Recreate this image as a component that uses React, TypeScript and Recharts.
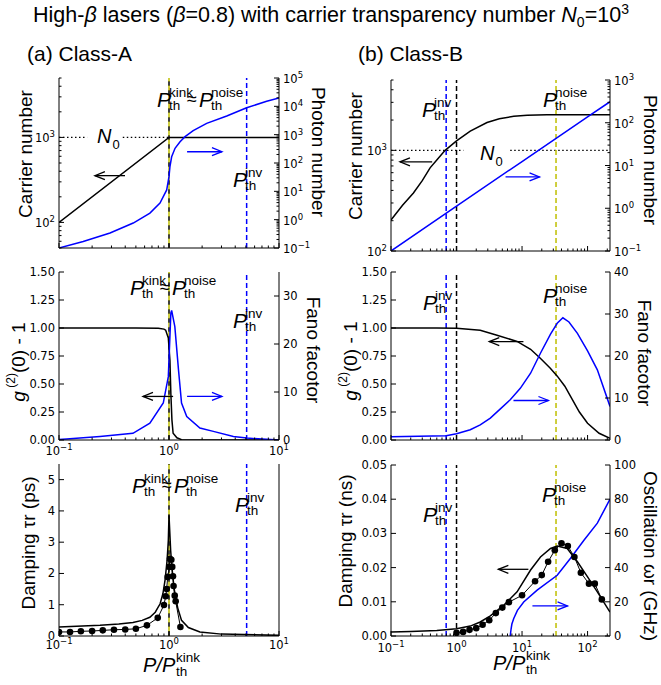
import React from "react";
import { LineChart, Line, XAxis, YAxis, ReferenceLine } from "recharts";

const FONT = "'Liberation Sans', Arial, sans-serif";
const TICK_FONT = "'DejaVu Sans', sans-serif";
const BLUE = "#0000ff";
const YELLOW = "#bfbf00";

// ---- axes ----
const xMajorA = [0.1, 1, 10];
const xMajorB = [0.1, 1, 10, 100];
const xDomainA: [number, number] = [0.1, 10];
const xDomainB: [number, number] = [0.1, 220];
const carrierMajorA = [100, 1000];
const carrierDomainA: [number, number] = [50, 5000];
const carrierMajorB = [100, 1000];
const carrierDomainB: [number, number] = [100, 5000];
const photonMajorA = [0.1, 1, 10, 100, 1000, 10000, 100000];
const photonMajorB = [0.1, 1, 10, 100, 1000];
const g2Ticks = [0, 0.25, 0.5, 0.75, 1, 1.25, 1.5];
const fanoTicksA = [0, 10, 20, 30];
const fanoTicksB = [0, 10, 20, 30, 40];
const tauTicksA = [0, 1, 2, 3, 4, 5];
const tauTicksB = [0, 0.01, 0.02, 0.03, 0.04, 0.05];
const oscTicks = [0, 20, 40, 60, 80, 100];

// ---- (a) Class-A data ----
const carrierA = [
  { x: 0.1, y: 100 }, { x: 1, y: 1000 }, { x: 10, y: 1000 },
];
const photonA = [
  { x: 0.1, y: 0.1 }, { x: 0.166, y: 0.17 }, { x: 0.291, y: 0.337 }, { x: 0.473, y: 0.76 },
  { x: 0.671, y: 1.7 }, { x: 0.828, y: 3.83 }, { x: 0.953, y: 11.2 }, { x: 1.0, y: 33 },
  { x: 1.02, y: 74 }, { x: 1.057, y: 166 }, { x: 1.135, y: 331 }, { x: 1.26, y: 562 },
  { x: 1.4, y: 851 }, { x: 1.66, y: 1380 }, { x: 2.2, y: 2510 }, { x: 3.35, y: 4570 },
  { x: 5.08, y: 8910 }, { x: 7.73, y: 15100 }, { x: 10, y: 19900 },
];
const g2A = [
  { x: 0.1, y: 1.0 }, { x: 0.5, y: 1.0 }, { x: 0.8, y: 0.998 }, { x: 0.9, y: 0.99 },
  { x: 0.933, y: 0.98 }, { x: 0.986, y: 0.91 }, { x: 1.02, y: 0.71 }, { x: 1.04, y: 0.41 },
  { x: 1.063, y: 0.18 }, { x: 1.09, y: 0.06 }, { x: 1.18, y: 0.02 }, { x: 1.3, y: 0.003 },
  { x: 2, y: 0 }, { x: 10, y: 0 },
];
const fanoA = [
  { x: 0.1, y: 0.1 }, { x: 0.117, y: 0.2 }, { x: 0.236, y: 0.75 }, { x: 0.47, y: 1.4 },
  { x: 0.67, y: 3.5 }, { x: 0.887, y: 7.7 }, { x: 0.986, y: 13.2 }, { x: 1.04, y: 26.5 },
  { x: 1.057, y: 27 }, { x: 1.13, y: 23.6 }, { x: 1.22, y: 14.6 }, { x: 1.3, y: 7.7 },
  { x: 1.45, y: 4.9 }, { x: 1.91, y: 2.5 }, { x: 2.53, y: 1.8 }, { x: 3.85, y: 0.75 },
  { x: 5.08, y: 0.4 }, { x: 10, y: 0 },
];
const tauTheoryA = [
  { x: 0.1, y: 0.29 }, { x: 0.236, y: 0.34 }, { x: 0.35, y: 0.38 }, { x: 0.47, y: 0.43 },
  { x: 0.57, y: 0.5 }, { x: 0.67, y: 0.6 }, { x: 0.75, y: 0.76 }, { x: 0.83, y: 1.03 },
  { x: 0.88, y: 1.35 }, { x: 0.92, y: 1.78 }, { x: 0.96, y: 2.4 }, { x: 0.986, y: 3.06 },
  { x: 1.0, y: 3.86 }, { x: 1.035, y: 2.74 }, { x: 1.07, y: 2.05 }, { x: 1.12, y: 1.46 },
  { x: 1.2, y: 0.9 }, { x: 1.3, y: 0.5 }, { x: 1.5, y: 0.27 }, { x: 1.91, y: 0.13 },
  { x: 3, y: 0.06 }, { x: 10, y: 0.02 },
];
const tauSimA = [
  { x: 0.1, y: 0.13 }, { x: 0.126, y: 0.13 }, { x: 0.158, y: 0.15 }, { x: 0.2, y: 0.16 },
  { x: 0.25, y: 0.18 }, { x: 0.316, y: 0.2 }, { x: 0.4, y: 0.21 }, { x: 0.5, y: 0.23 },
  { x: 0.63, y: 0.34 }, { x: 0.79, y: 0.58 }, { x: 0.9, y: 0.99 }, { x: 0.933, y: 1.27 },
  { x: 0.953, y: 1.5 }, { x: 0.973, y: 1.89 }, { x: 1.007, y: 2.21 }, { x: 1.02, y: 2.47 },
  { x: 1.05, y: 2.44 }, { x: 1.07, y: 2.21 }, { x: 1.087, y: 1.91 }, { x: 1.1, y: 1.6 },
  { x: 1.127, y: 1.29 }, { x: 1.15, y: 1.11 }, { x: 1.27, y: 0.29 },
];

// ---- (b) Class-B data ----
const carrierB = [
  { x: 0.1, y: 203 }, { x: 0.15, y: 285 }, { x: 0.22, y: 377 }, { x: 0.3, y: 500 },
  { x: 0.395, y: 670 }, { x: 0.5, y: 800 }, { x: 0.67, y: 1000 }, { x: 1.0, y: 1240 },
  { x: 1.62, y: 1550 }, { x: 2.92, y: 1890 }, { x: 4.5, y: 2060 }, { x: 7.47, y: 2180 },
  { x: 12, y: 2235 }, { x: 24, y: 2260 }, { x: 220, y: 2260 },
];
const photonB = [
  { x: 0.1, y: 0.1 }, { x: 1, y: 1.12 }, { x: 10, y: 12.4 }, { x: 100, y: 137 }, { x: 220, y: 310 },
];
const g2B = [
  { x: 0.1, y: 1.0 }, { x: 0.5, y: 1.0 }, { x: 1, y: 0.997 }, { x: 2.3, y: 0.98 },
  { x: 4.15, y: 0.935 }, { x: 8.4, y: 0.88 }, { x: 13.5, y: 0.81 }, { x: 19, y: 0.73 },
  { x: 27, y: 0.64 }, { x: 34.5, y: 0.57 }, { x: 45, y: 0.48 }, { x: 55, y: 0.39 },
  { x: 75, y: 0.25 }, { x: 100, y: 0.15 }, { x: 150, y: 0.06 }, { x: 220, y: 0.015 },
];
const fanoB = [
  { x: 0.1, y: 0.8 }, { x: 0.695, y: 1.0 }, { x: 1, y: 1.5 }, { x: 1.62, y: 2.45 },
  { x: 2.3, y: 3.6 }, { x: 3.28, y: 5.2 }, { x: 4.67, y: 7.4 }, { x: 6.6, y: 9.6 },
  { x: 9.4, y: 12.3 }, { x: 13.5, y: 15.9 }, { x: 19, y: 20.6 }, { x: 27.2, y: 25.2 },
  { x: 34.4, y: 27.8 }, { x: 42, y: 29.1 }, { x: 52, y: 28.1 }, { x: 70, y: 25.4 },
  { x: 100, y: 21.2 }, { x: 141, y: 16.7 }, { x: 220, y: 8 },
];
const tauTheoryB = [
  { x: 0.1, y: 0.0012 }, { x: 0.2, y: 0.0013 }, { x: 0.5, y: 0.0016 }, { x: 1, y: 0.0021 },
  { x: 1.62, y: 0.0029 }, { x: 2.3, y: 0.0041 }, { x: 3.28, y: 0.0059 }, { x: 4.15, y: 0.0074 },
  { x: 5.25, y: 0.009 }, { x: 8.4, y: 0.0129 }, { x: 13.5, y: 0.0193 }, { x: 19.1, y: 0.0231 },
  { x: 27.2, y: 0.0256 }, { x: 34.4, y: 0.0263 }, { x: 49, y: 0.0256 }, { x: 70, y: 0.0217 },
  { x: 100, y: 0.0173 }, { x: 141, y: 0.0129 }, { x: 220, y: 0.007 },
];
const tauSimB = [
  { x: 1.0, y: 0.0009 }, { x: 1.26, y: 0.0012 }, { x: 1.58, y: 0.0018 }, { x: 2.0, y: 0.0023 },
  { x: 2.5, y: 0.0033 }, { x: 3.16, y: 0.0046 }, { x: 3.98, y: 0.0067 }, { x: 5.0, y: 0.0083 },
  { x: 6.3, y: 0.0099 }, { x: 10, y: 0.0119 }, { x: 15.8, y: 0.016 }, { x: 20, y: 0.0178 },
  { x: 25, y: 0.0217 }, { x: 31.6, y: 0.0251 }, { x: 40, y: 0.0271 }, { x: 50, y: 0.0263 },
  { x: 63, y: 0.0231 }, { x: 79, y: 0.0185 }, { x: 105, y: 0.0153 }, { x: 129, y: 0.0153 },
  { x: 165, y: 0.0107 },
];
const oscB = [
  { x: 6.6, y: 0 }, { x: 6.8, y: 4 }, { x: 7.0, y: 7 }, { x: 7.47, y: 10.2 }, { x: 8.5, y: 15 },
  { x: 10.6, y: 19.9 }, { x: 17, y: 26.8 }, { x: 34.4, y: 35.5 }, { x: 55, y: 45.5 },
  { x: 88, y: 56 }, { x: 141, y: 66 }, { x: 220, y: 80 },
];

// thresholds (P/P_kink)
const pInvA = 5.08;
const pInvB = 0.695;
const pNoiseB = 33;

// ---- helpers ----
const withMinors = (majors: number[], hi: number) => {
  const out: number[] = [];
  majors.forEach((m) => {
    out.push(m);
    for (let k = 2; k <= 9; k++) if (m * k <= hi * 1.0001) out.push(m * k);
  });
  return out;
};
const isMajor = (v: number, majors: number[]) => majors.some((m) => Math.abs(m - v) / m < 1e-6);
const expText = (v: number) => String(Math.round(Math.log10(v))).replace("-", "\u2212");

type AxisSpec = {
  log?: boolean;
  domain: [number, number];
  ticks: number[];
  majors?: number[];
  fmt?: (v: number) => string;
  noLabels?: boolean;
};

function XTick(p: any) {
  const { x, y, payload, majors, labels, dy } = p;
  const v = payload.value;
  const major = isMajor(v, majors);
  return (
    <g>
      <line x1={x} x2={x} y1={y} y2={y - (major ? 5 : 2.5)} stroke="#000" strokeWidth={1} />
      {labels && major && (
        <text x={x} y={y + dy} textAnchor="middle" fontFamily={TICK_FONT} fontSize={11.5} fill="#000">
          10<tspan dy={-5} fontSize={8.5}>{expText(v)}</tspan>
        </text>
      )}
    </g>
  );
}

function YTick(p: any) {
  const { x, y, payload, spec, side } = p;
  const s: AxisSpec = spec;
  const v = payload.value;
  const major = s.log ? isMajor(v, s.majors || []) : true;
  const dir = side === "l" ? 1 : -1;
  const len = major ? 5 : 2.5;
  const tx = side === "l" ? x - 4 : x + 4;
  const anchor = side === "l" ? "end" : "start";
  let label: React.ReactNode = null;
  if (!s.noLabels && major) {
    label = s.log ? (
      <text x={tx} y={y + 5} textAnchor={anchor} fontFamily={TICK_FONT} fontSize={11.5} fill="#000">
        10<tspan dy={-5} fontSize={8.5}>{expText(v)}</tspan>
      </text>
    ) : (
      <text x={tx} y={y + 4} textAnchor={anchor} fontFamily={TICK_FONT} fontSize={11.5} fill="#000">
        {s.fmt ? s.fmt(v) : String(v)}
      </text>
    );
  }
  return (
    <g>
      <line x1={x} x2={x + dir * len} y1={y} y2={y} stroke="#000" strokeWidth={1} />
      {label}
    </g>
  );
}

const arrow = (color: string) => (p: any) => {
  const { x1, y1, x2, y2 } = p;
  const d = Math.sign(x2 - x1);
  return (
    <g stroke={color} strokeWidth={1.3} fill="none">
      <line x1={x1} y1={y1} x2={x2} y2={y2} />
      <polyline points={`${x2 - d * 10},${y2 - 4} ${x2},${y2} ${x2 - d * 10},${y2 + 4}`} />
    </g>
  );
};

const dashed = (color: string, offset = 0, dash = "5 3") => (p: any) => (
  <line x1={p.x1} y1={p.y1} x2={p.x2} y2={p.y2} stroke={color} strokeWidth={1.5}
    strokeDasharray={dash} strokeDashoffset={offset} />
);

type PanelProps = {
  left: number; top: number; width: number; height: number;
  plotTop: number; plotBottom: number; yLeftW: number; yRightW: number;
  xDomain: [number, number]; xTicks: number[]; xMajors: number[];
  xLabels: boolean; xLabelDy: number;
  l: AxisSpec; r: AxisSpec;
  children?: React.ReactNode;
};

function Panel(pp: PanelProps) {
  const { left, top, width, height, plotTop, plotBottom, yLeftW, yRightW, xDomain, xTicks, xMajors, xLabels, xLabelDy, l, r } = pp;
  return (
    <div style={{ position: "absolute", left, top }}>
      <LineChart width={width} height={height} margin={{ top: plotTop - top, right: 0, bottom: 0, left: 0 }}>
        <XAxis dataKey="x" type="number" scale="log" domain={xDomain} allowDataOverflow ticks={xTicks}
          interval={0} tickSize={0} tickMargin={0} height={top + height - plotBottom}
          axisLine={{ stroke: "#000", strokeWidth: 1 }} tickLine={false}
          tick={(p: any) => <XTick {...p} majors={xMajors} labels={xLabels} dy={xLabelDy} />} />
        <XAxis xAxisId="t" orientation="top" type="number" scale="log" domain={xDomain} allowDataOverflow
          height={0} tick={false} tickLine={false} axisLine={{ stroke: "#000", strokeWidth: 1 }} />
        <YAxis yAxisId="l" orientation="left" width={yLeftW} type="number" scale={l.log ? "log" : "linear"}
          domain={l.domain} allowDataOverflow ticks={l.ticks} interval={0} tickSize={0} tickMargin={0}
          axisLine={{ stroke: "#000", strokeWidth: 1 }} tickLine={false}
          tick={(p: any) => <YTick {...p} spec={l} side="l" />} />
        <YAxis yAxisId="r" orientation="right" width={yRightW} type="number" scale={r.log ? "log" : "linear"}
          domain={r.domain} allowDataOverflow ticks={r.ticks} interval={0} tickSize={0} tickMargin={0}
          axisLine={{ stroke: "#000", strokeWidth: 1 }} tickLine={false}
          tick={(p: any) => <YTick {...p} spec={r} side="r" />} />
        {pp.children}
      </LineChart>
    </div>
  );
}

const lineProps = { type: "linear" as const, dataKey: "y", dot: false, strokeWidth: 1.5, isAnimationActive: false };

// ---- overlay text helpers ----
function PTh({ x, y, sup }: { x: number; y: number; sup: string }) {
  return (
    <g fontFamily={FONT} fill="#000">
      <text x={x} y={y} fontSize={21} fontStyle="italic">P</text>
      <text x={x + 12} y={y + 3} fontSize={13.5}>th</text>
      <text x={x + 12} y={y - 10} fontSize={13.5}>{sup}</text>
    </g>
  );
}
function KinkNoise({ x, y }: { x: number; y: number }) {
  return (
    <g>
      <PTh x={x} y={y} sup="kink" />
      <text x={x + 30} y={y - 2} fontSize={18} fontFamily={FONT}>≈</text>
      <PTh x={x + 42} y={y} sup="noise" />
    </g>
  );
}
function N0({ x, y }: { x: number; y: number }) {
  return (
    <text x={x} y={y} fontFamily={FONT} fontSize={20}>
      <tspan fontStyle="italic">N</tspan>
      <tspan dx={1} dy={6} fontSize={13}>0</tspan>
    </text>
  );
}
function VTitle({ x, y, rot, children }: { x: number; y: number; rot: number; children: React.ReactNode }) {
  return (
    <text transform={`translate(${x},${y}) rotate(${rot})`} textAnchor="middle" dominantBaseline="central"
      fontFamily={FONT} fontSize={19} fill="#000">
      {children}
    </text>
  );
}
function XTitle({ x, y }: { x: number; y: number }) {
  return (
    <g fontFamily={FONT} fill="#000">
      <text x={x} y={y} fontSize={20} fontStyle="italic">P/P</text>
      <text x={x + 33} y={y + 4} fontSize={13.5}>th</text>
      <text x={x + 33} y={y - 10} fontSize={13.5}>kink</text>
    </g>
  );
}
const G2Title = () => (
  <>
    <tspan fontStyle="italic">g</tspan>
    <tspan dy={-7} fontSize={12}> (2)</tspan>
    <tspan dy={7}>(0) - 1</tspan>
  </>
);

// ---- axis specs ----
const xTicksA = withMinors([0.1, 1], 10).concat([10]);
const xTicksB = withMinors([0.1, 1, 10, 100], 220);
const carrierSpecA: AxisSpec = { log: true, domain: carrierDomainA, ticks: [50, 60, 70, 80, 90].concat(withMinors([100, 1000], 5000)), majors: carrierMajorA };
const photonSpecA: AxisSpec = { log: true, domain: [0.1, 100000], ticks: withMinors(photonMajorA, 100000), majors: photonMajorA };
const carrierSpecB: AxisSpec = { log: true, domain: carrierDomainB, ticks: withMinors(carrierMajorB, 5000), majors: carrierMajorB };
const photonSpecB: AxisSpec = { log: true, domain: [0.1, 1000], ticks: withMinors(photonMajorB, 1000), majors: photonMajorB };
const g2Spec: AxisSpec = { domain: [0, 1.5], ticks: g2Ticks, fmt: (v) => v.toFixed(2) };
const fanoSpecA: AxisSpec = { domain: [0, 35], ticks: fanoTicksA };
const fanoSpecB: AxisSpec = { domain: [0, 40], ticks: fanoTicksB };
const tauSpecA: AxisSpec = { domain: [0, 5.5], ticks: tauTicksA };
const noneSpec: AxisSpec = { domain: [0, 1], ticks: [], noLabels: true };
const tauSpecB: AxisSpec = { domain: [0, 0.05], ticks: tauTicksB, fmt: (v) => v.toFixed(2) };
const oscSpec: AxisSpec = { domain: [0, 100], ticks: oscTicks };

const colA = { left: 0, width: 330, yLeftW: 59, yRightW: 51, xDomain: xDomainA, xTicks: xTicksA, xMajors: xMajorA };
const colB = { left: 330, width: 331, yLeftW: 61, yRightW: 51, xDomain: xDomainB, xTicks: xTicksB, xMajors: xMajorB };

const kinkLines = [
  <ReferenceLine key="k1" x={1} yAxisId="l" shape={dashed("#000", 0, "5 4")} />,
  <ReferenceLine key="k2" x={1} yAxisId="l" shape={dashed(YELLOW, 4.5, "5 4")} />,
  <ReferenceLine key="inv" x={pInvA} yAxisId="l" shape={dashed(BLUE)} />,
];
const bLines = [
  <ReferenceLine key="inv" x={pInvB} yAxisId="l" shape={dashed(BLUE)} />,
  <ReferenceLine key="kink" x={1} yAxisId="l" shape={dashed("#000")} />,
  <ReferenceLine key="noise" x={pNoiseB} yAxisId="l" shape={dashed(YELLOW)} />,
];

export default function App() {
  return (
    <div style={{ position: "absolute", left: 0, top: 0, width: 661, height: 685, background: "#fff" }}>
      {/* (a) top */}
      <Panel {...colA} top={60} height={200} plotTop={78} plotBottom={248} xLabels={false} xLabelDy={14}
        l={carrierSpecA} r={photonSpecA}>
        <ReferenceLine yAxisId="l" segment={[{ x: 0.1, y: 1000 }, { x: 0.18, y: 1000 }]} stroke="#000" strokeWidth={1.3} strokeDasharray="1.5 2.5" />
        <ReferenceLine yAxisId="l" segment={[{ x: 0.38, y: 1000 }, { x: 1, y: 1000 }]} stroke="#000" strokeWidth={1.3} strokeDasharray="1.5 2.5" />
        {kinkLines}
        <Line {...lineProps} yAxisId="l" data={carrierA} stroke="#000" />
        <Line {...lineProps} yAxisId="r" data={photonA} stroke={BLUE} />
        <ReferenceLine yAxisId="l" segment={[{ x: 0.398, y: 355 }, { x: 0.212, y: 355 }]} shape={arrow("#000")} />
        <ReferenceLine yAxisId="r" segment={[{ x: 1.46, y: 250 }, { x: 3.03, y: 250 }]} shape={arrow(BLUE)} />
      </Panel>
      {/* (a) middle */}
      <Panel {...colA} top={260} height={200} plotTop={272} plotBottom={440} xLabels={true} xLabelDy={14.5}
        l={g2Spec} r={fanoSpecA}>
        {kinkLines}
        <Line {...lineProps} yAxisId="l" data={g2A} stroke="#000" />
        <Line {...lineProps} yAxisId="r" data={fanoA} stroke={BLUE} />
        <ReferenceLine yAxisId="l" segment={[{ x: 1.09, y: 0.389 }, { x: 0.58, y: 0.389 }]} shape={arrow("#000")} />
        <ReferenceLine yAxisId="r" segment={[{ x: 1.46, y: 9.07 }, { x: 3.03, y: 9.07 }]} shape={arrow(BLUE)} />
      </Panel>
      {/* (a) bottom */}
      <Panel {...colA} top={452} height={233} plotTop={464} plotBottom={636} xLabels={true} xLabelDy={12.5}
        l={tauSpecA} r={noneSpec}>
        {kinkLines}
        <Line {...lineProps} yAxisId="l" data={tauTheoryA} stroke="#000" />
        <Line {...lineProps} yAxisId="l" data={tauSimA} stroke="#000" strokeWidth={1}
          dot={{ r: 3.3, fill: "#000", stroke: "#000", strokeWidth: 0 }} />
      </Panel>

      {/* (b) top */}
      <Panel {...colB} top={60} height={200} plotTop={80} plotBottom={251} xLabels={false} xLabelDy={14}
        l={carrierSpecB} r={photonSpecB}>
        <ReferenceLine yAxisId="l" segment={[{ x: 0.1, y: 1000 }, { x: 1.27, y: 1000 }]} stroke="#000" strokeWidth={1.3} strokeDasharray="1.5 2.5" />
        <ReferenceLine yAxisId="l" segment={[{ x: 6.6, y: 1000 }, { x: 220, y: 1000 }]} stroke="#000" strokeWidth={1.3} strokeDasharray="1.5 2.5" />
        {bLines}
        <Line {...lineProps} yAxisId="l" data={carrierB} stroke="#000" />
        <Line {...lineProps} yAxisId="r" data={photonB} stroke={BLUE} />
        <ReferenceLine yAxisId="l" segment={[{ x: 0.425, y: 769 }, { x: 0.137, y: 769 }]} shape={arrow("#000")} />
        <ReferenceLine yAxisId="r" segment={[{ x: 5.6, y: 5.4 }, { x: 18.5, y: 5.4 }]} shape={arrow(BLUE)} />
      </Panel>
      {/* (b) middle */}
      <Panel {...colB} top={260} height={200} plotTop={272} plotBottom={440} xLabels={false} xLabelDy={14}
        l={g2Spec} r={fanoSpecB}>
        {bLines}
        <Line {...lineProps} yAxisId="l" data={g2B} stroke="#000" />
        <Line {...lineProps} yAxisId="r" data={fanoB} stroke={BLUE} />
        <ReferenceLine yAxisId="l" segment={[{ x: 10.5, y: 0.879 }, { x: 3.16, y: 0.879 }]} shape={arrow("#000")} />
        <ReferenceLine yAxisId="r" segment={[{ x: 7.4, y: 9.4 }, { x: 25.3, y: 9.4 }]} shape={arrow(BLUE)} />
      </Panel>
      {/* (b) bottom */}
      <Panel {...colB} top={452} height={233} plotTop={465} plotBottom={636} xLabels={true} xLabelDy={16}
        l={tauSpecB} r={oscSpec}>
        {bLines}
        <Line {...lineProps} yAxisId="l" data={tauTheoryB} stroke="#000" />
        <Line {...lineProps} yAxisId="l" data={tauSimB} stroke="#000" strokeWidth={1}
          dot={{ r: 3.3, fill: "#000", stroke: "#000", strokeWidth: 0 }} />
        <Line {...lineProps} yAxisId="r" data={oscB} stroke={BLUE} />
        <ReferenceLine yAxisId="l" segment={[{ x: 12.5, y: 0.0195 }, { x: 4.35, y: 0.0195 }]} shape={arrow("#000")} />
        <ReferenceLine yAxisId="r" segment={[{ x: 14.4, y: 17.6 }, { x: 49.5, y: 17.6 }]} shape={arrow(BLUE)} />
      </Panel>

      <svg width={661} height={685} style={{ position: "absolute", left: 0, top: 0, pointerEvents: "none" }}>
        <text x={331} y={22} textAnchor="middle" fontFamily={FONT} fontSize={21.5} fill="#000">
          High-<tspan fontStyle="italic">β</tspan> lasers (<tspan fontStyle="italic">β</tspan>=0.8) with carrier transparency number <tspan fontStyle="italic">N</tspan>
          <tspan dy={5} fontSize={14}>0</tspan><tspan dy={-5}>=10</tspan><tspan dy={-8} fontSize={14}>3</tspan>
        </text>
        <text x={27} y={61} fontFamily={FONT} fontSize={21}>(a) Class-A</text>
        <text x={358} y={61} fontFamily={FONT} fontSize={21}>(b) Class-B</text>

        <VTitle x={25} y={154} rot={-90}>Carrier number</VTitle>
        <VTitle x={318} y={152} rot={90}>Photon number</VTitle>
        <VTitle x={355} y={156} rot={-90}>Carrier number</VTitle>
        <VTitle x={650} y={160} rot={90}>Photon number</VTitle>
        <VTitle x={18} y={362} rot={-90}><G2Title /></VTitle>
        <VTitle x={313} y={350} rot={90}>Fano facotor</VTitle>
        <VTitle x={350} y={361} rot={-90}><G2Title /></VTitle>
        <VTitle x={644} y={353} rot={90}>Fano facotor</VTitle>
        <VTitle x={28} y={543} rot={-90}>Damping τr (ps)</VTitle>
        <VTitle x={345} y={541} rot={-90}>Damping τr (ns)</VTitle>
        <VTitle x={650} y={556} rot={90}>Oscillation ωr (GHz)</VTitle>
        <XTitle x={143} y={672} />
        <XTitle x={493} y={670} />

        <KinkNoise x={157} y={107} />
        <PTh x={233} y={187} sup="inv" />
        <N0 x={97} y={143} />
        <PTh x={422} y={117} sup="inv" />
        <N0 x={480} y={160} />
        <PTh x={543} y={107} sup="noise" />

        <KinkNoise x={130} y={295} />
        <PTh x={233} y={328} sup="inv" />
        <PTh x={423} y={310} sup="inv" />
        <PTh x={543} y={303} sup="noise" />

        <KinkNoise x={132} y={493} />
        <PTh x={235} y={512} sup="inv" />
        <PTh x={423} y={522} sup="inv" />
        <PTh x={542} y={502} sup="noise" />
      </svg>
    </div>
  );
}
